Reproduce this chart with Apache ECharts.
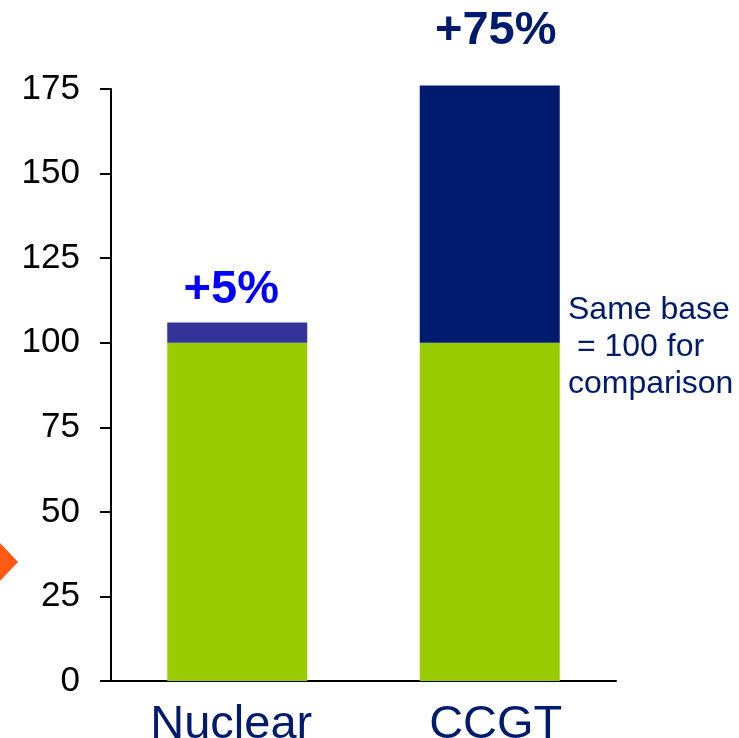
<!DOCTYPE html>
<html>
<head>
<meta charset="utf-8">
<script src="https://cdn.jsdelivr.net/npm/echarts@6/dist/echarts.min.js"></script>
<style>html,body{margin:0;padding:0;background:#fff}#c{width:739px;height:738px}</style>
</head>
<body>
<div id="c"></div>
<script>
var categories = ['Nuclear', 'CCGT'];
var baseValues = [100, 100];
var increaseValues = [6, 76];
var increaseLabels = ['+5%', '+75%'];
var yTicks = [0, 25, 50, 75, 100, 125, 150, 175];
var noteLines = ['Same base', ' = 100 for', 'comparison'];

var FONT = '"Liberation Sans", Arial, sans-serif';
var incColors = ['#333399', '#001a6e'];
var labelColors = ['#0000ff', '#001a6e'];
var labelDist = [9, 31];
var labelOffX = [-6, 6];

var chart = echarts.init(document.getElementById('c'), null, {renderer: 'canvas'});
chart.setOption({
  animation: false,
  grid: {left: 111, right: 123, top: 89, bottom: 57, containLabel: false, outerBoundsMode: 'none'},
  xAxis: {
    type: 'category',
    data: categories,
    axisLine: {lineStyle: {color: '#000', width: 2}},
    axisTick: {show: false},
    axisLabel: {
      interval: 0, hideOverlap: false,
      color: '#001a6e', fontSize: 47, fontFamily: FONT, margin: 21,
      formatter: function (v, i) { return '{c' + i + '|' + v + '}'; },
      rich: {
        c0: {color: '#001a6e', fontSize: 47, fontFamily: FONT, padding: [0, 12, 0, 0]},
        c1: {color: '#001a6e', fontSize: 47, fontFamily: FONT, padding: [0, 0, 0, 12]}
      }
    }
  },
  yAxis: {
    type: 'value',
    min: yTicks[0],
    max: yTicks[yTicks.length - 1],
    interval: 25,
    splitLine: {show: false},
    axisLine: {show: true, lineStyle: {color: '#000', width: 2}},
    axisTick: {show: true, inside: false, length: 11, lineStyle: {color: '#000', width: 2}},
    axisLabel: {color: '#000', fontSize: 35, fontFamily: FONT, margin: 31}
  },
  series: [
    {
      type: 'bar', stack: 'a', barWidth: 140, clip: false,
      data: baseValues,
      itemStyle: {color: '#99cc00'}
    },
    {
      type: 'bar', stack: 'a', barWidth: 140, clip: false,
      data: increaseValues.map(function (v, i) {
        return {
          value: v,
          itemStyle: {color: incColors[i]},
          label: {
            show: true, position: 'top', formatter: increaseLabels[i],
            distance: labelDist[i], offset: [labelOffX[i], 0],
            color: labelColors[i], fontSize: 47, fontWeight: 'bold', fontFamily: FONT
          }
        };
      })
    }
  ],
  graphic: [
    {
      type: 'text', left: 568, top: 292,
      style: {text: noteLines.join('\n'), fill: '#001a6e', font: '32px ' + FONT, lineHeight: 37}
    },
    {
      type: 'polygon',
      shape: {points: [[0, 543], [18, 562], [0, 581]]},
      style: {fill: '#ff5a14'}
    }
  ]
});
</script>
</body>
</html>
